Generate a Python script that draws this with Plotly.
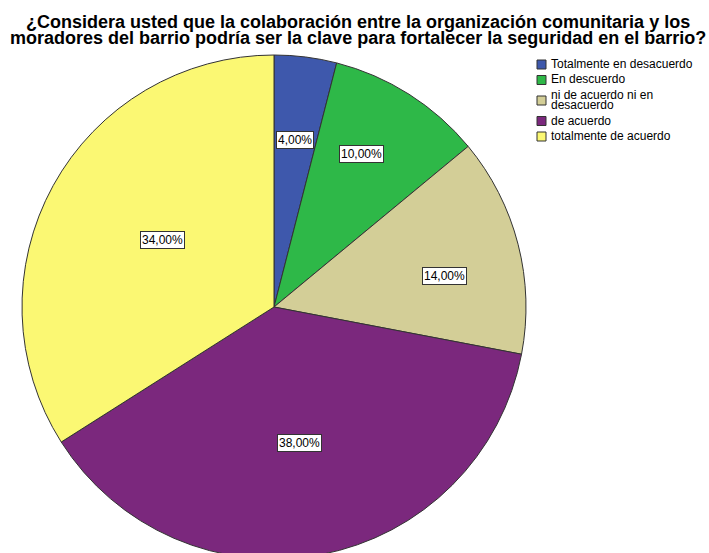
import math
import plotly.graph_objects as go

# ---- data ----
categories = ["Totalmente en desacuerdo", "En descuerdo", "ni de acuerdo ni en desacuerdo",
              "de acuerdo", "totalmente de acuerdo"]
legend_lines = [["Totalmente en desacuerdo"], ["En descuerdo"], ["ni de acuerdo ni en", "desacuerdo"],
                ["de acuerdo"], ["totalmente de acuerdo"]]
percentages = [4.0, 10.0, 14.0, 38.0, 34.0]
title_lines = ["¿Considera usted que la colaboración entre la organización comunitaria y los",
               "moradores del barrio podría ser la clave para fortalecer la seguridad en el barrio?"]

# ---- style ----
colors = ["#3E58AC", "#2EB848", "#D3CE97", "#7B287D", "#FBF873"]
label_radius = [0.667, 0.70, 0.687, 0.548, 0.516]   # fraction of pie radius for label boxes
label_angle_shift = [0.0, -2.8, 4.1, 0.0, 2.2]      # degrees
FONT = "Liberation Sans, Arial, sans-serif"
EDGE = "#333333"

W, H = 709, 562
CX, CY, R = 274, 307, 252   # pie centre/radius in pixels (from top-left)


def px(x):
    return x / W


def py(y):
    return 1 - y / H


fig = go.Figure()
fig.add_trace(go.Pie(
    labels=categories,
    values=percentages,
    sort=False,
    direction="clockwise",
    rotation=0,
    marker=dict(colors=colors, line=dict(color=EDGE, width=1)),
    textinfo="none",
    hoverinfo="label+percent",
    domain=dict(x=[px(CX - R), px(CX + R)], y=[py(CY + R), py(CY - R)]),
    showlegend=False,
))

annotations = []
shapes = []

# percentage label boxes at each slice's mid-angle
total = sum(percentages)
cum = 0.0
for v, rf, sh in zip(percentages, label_radius, label_angle_shift):
    mid = math.radians((cum + v / 2) / total * 360 + sh)
    cum += v
    annotations.append(dict(
        x=px(CX + rf * R * math.sin(mid)), y=py(CY - rf * R * math.cos(mid)),
        xref="paper", yref="paper",
        text=f"{v:.2f}%".replace(".", ","), showarrow=False,
        font=dict(family=FONT, size=12, color="#000000"),
        bgcolor="#FFFFFF", bordercolor=EDGE, borderwidth=1, borderpad=1,
        xanchor="center", yanchor="middle",
    ))

# title (two lines, tight spacing)
for i, line in enumerate(title_lines):
    annotations.append(dict(
        x=0.505, y=py(21.8 + 16.5 * i), xref="paper", yref="paper",
        text=line, showarrow=False, xanchor="center", yanchor="middle",
        font=dict(family=FONT, size=18, color="#000000", weight="bold"),
    ))

# legend (compact, SPSS-like)
y = 64.0
for lines, c in zip(legend_lines, colors):
    n = len(lines)
    for j, line in enumerate(lines):
        annotations.append(dict(
            x=px(549), y=py(y + 10 * j), xref="paper", yref="paper",
            text=line, showarrow=False, xanchor="left", yanchor="middle",
            font=dict(family=FONT, size=12, color="#000000"),
        ))
    sc = y + (n - 1) * 5 + 0.5
    shapes.append(dict(
        type="rect", xref="paper", yref="paper",
        x0=px(537), x1=px(546), y0=py(sc - 4.5), y1=py(sc + 4.5),
        fillcolor=c, line=dict(color=EDGE, width=1),
    ))
    y += (n - 1) * 10 + 15.5

fig.update_layout(
    width=W, height=H,
    margin=dict(l=0, r=0, t=0, b=0),
    paper_bgcolor="#FFFFFF",
    plot_bgcolor="#FFFFFF",
    annotations=annotations,
    shapes=shapes,
)

fig.write_html("out.html", config={"displayModeBar": False},
               post_script="document.body.style.margin='0';document.body.style.overflow='hidden';")
